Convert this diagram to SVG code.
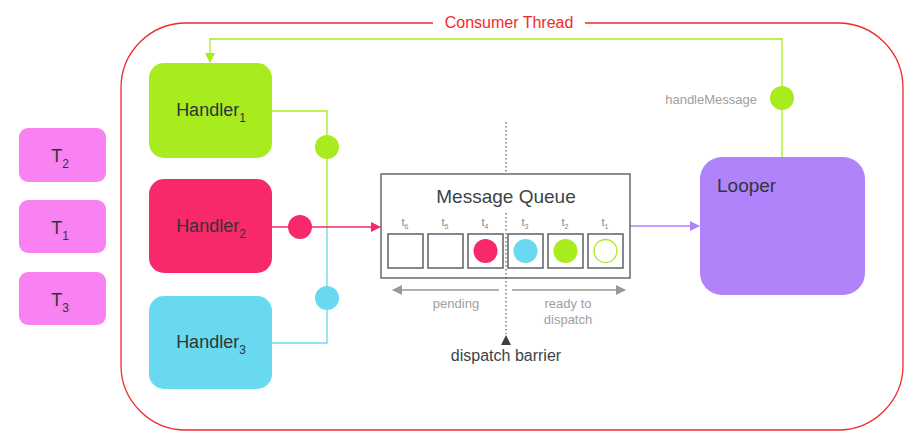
<svg xmlns="http://www.w3.org/2000/svg" width="916" height="440" viewBox="0 0 916 440">
<style>
text{font-family:"Liberation Sans",Arial,sans-serif}
.lbl{fill:#2e3538;font-size:18px}
.gray{fill:#a0a0a0;font-size:13px}
.slot{fill:#fff;stroke:#5a6266;stroke-width:1.5}
.ts{fill:#888;font-size:11px}
</style>
<defs>
<marker id="ag" markerWidth="10" markerHeight="10" refX="9" refY="5" orient="auto" markerUnits="userSpaceOnUse"><path d="M0,0 L10,5 L0,10 z" fill="#a8eb1e"/></marker>
<marker id="ap" markerWidth="10" markerHeight="10" refX="9" refY="5" orient="auto" markerUnits="userSpaceOnUse"><path d="M0,0 L10,5 L0,10 z" fill="#f7296a"/></marker>
<marker id="av" markerWidth="10" markerHeight="10" refX="9" refY="5" orient="auto" markerUnits="userSpaceOnUse"><path d="M0,0 L10,5 L0,10 z" fill="#b083fb"/></marker>
<marker id="ay" markerWidth="10" markerHeight="10" refX="9" refY="5" orient="auto" markerUnits="userSpaceOnUse"><path d="M0,0 L10,5 L0,10 z" fill="#999"/></marker>
</defs>
<g id="consumer-thread">
<path d="M433,23 H186 A65,65 0 0 0 121,88 V365 A65,65 0 0 0 186,430 H838 A65,65 0 0 0 903,365 V88 A65,65 0 0 0 838,23 H585" fill="none" stroke="#f02a2a" stroke-width="1.3"/>
<text x="509" y="28" text-anchor="middle" font-size="16" fill="#f02a2a">Consumer Thread</text>
</g>
<g id="connectors" fill="none" stroke-width="1.3">
<path d="M782,157 V39 H210 V62" stroke="#a8eb1e" marker-end="url(#ag)"/>
<path d="M272,111 H327 V227" stroke="#a8eb1e"/>
<path d="M272,343 H327 V227" stroke="#68d9ef"/>
<path d="M272,227 H380" stroke="#f7296a" marker-end="url(#ap)"/>
<path d="M630,226 H699" stroke="#b083fb" marker-end="url(#av)"/>
<circle cx="327" cy="147" r="12" fill="#a8eb1e" stroke="none"/>
<circle cx="327" cy="298" r="12" fill="#68d9ef" stroke="none"/>
<circle cx="300" cy="227" r="12" fill="#f7296a" stroke="none"/>
<circle cx="782" cy="98" r="12" fill="#a8eb1e" stroke="none"/>
<text x="757" y="104" text-anchor="end" class="gray" stroke="none">handleMessage</text>
</g>
<g id="t2"><rect x="19" y="128" width="87" height="54" rx="9" fill="#f882f1"/><text x="60" y="162" text-anchor="middle" class="lbl">T<tspan font-size="12" dy="6">2</tspan></text></g>
<g id="t1"><rect x="19" y="200" width="87" height="53" rx="9" fill="#f882f1"/><text x="60" y="234" text-anchor="middle" class="lbl">T<tspan font-size="12" dy="6">1</tspan></text></g>
<g id="t3"><rect x="19" y="272" width="87" height="53" rx="9" fill="#f882f1"/><text x="60" y="306" text-anchor="middle" class="lbl">T<tspan font-size="12" dy="6">3</tspan></text></g>
<g id="handler1"><rect x="149" y="63" width="123" height="95" rx="15" fill="#a8eb1e"/><text x="211" y="116" text-anchor="middle" class="lbl">Handler<tspan font-size="12" dy="6">1</tspan></text></g>
<g id="handler2"><rect x="149" y="179" width="123" height="94" rx="15" fill="#f7296a"/><text x="211" y="232" text-anchor="middle" class="lbl">Handler<tspan font-size="12" dy="6">2</tspan></text></g>
<g id="handler3"><rect x="149" y="296" width="123" height="93" rx="15" fill="#68d9ef"/><text x="211" y="348" text-anchor="middle" class="lbl">Handler<tspan font-size="12" dy="6">3</tspan></text></g>
<g id="message-queue">
<rect x="381" y="174" width="249" height="104" fill="#fff" stroke="#4a5459" stroke-width="1.3"/>
<text x="506" y="203" text-anchor="middle" font-size="19" fill="#3a4448">Message Queue</text>
<rect class="slot" x="388" y="234" width="35" height="34"/>
<rect class="slot" x="428" y="234" width="35" height="34"/>
<rect class="slot" x="468" y="234" width="35" height="34"/>
<rect class="slot" x="508" y="234" width="35" height="34"/>
<rect class="slot" x="548" y="234" width="35" height="34"/>
<rect class="slot" x="588" y="234" width="35" height="34"/>
<circle cx="485.5" cy="251" r="12" fill="#f7296a"/>
<circle cx="525.5" cy="251" r="12" fill="#68d9ef"/>
<circle cx="565.5" cy="251" r="12" fill="#a8eb1e"/>
<circle cx="605.5" cy="251" r="11.5" fill="#fff" stroke="#a8eb1e" stroke-width="1.3"/>
<text x="405" y="226" text-anchor="middle" class="ts">t<tspan font-size="7" dy="3">6</tspan></text>
<text x="445" y="226" text-anchor="middle" class="ts">t<tspan font-size="7" dy="3">5</tspan></text>
<text x="485" y="226" text-anchor="middle" class="ts">t<tspan font-size="7" dy="3">4</tspan></text>
<text x="525" y="226" text-anchor="middle" class="ts">t<tspan font-size="7" dy="3">3</tspan></text>
<text x="565" y="226" text-anchor="middle" class="ts">t<tspan font-size="7" dy="3">2</tspan></text>
<text x="605" y="226" text-anchor="middle" class="ts">t<tspan font-size="7" dy="3">1</tspan></text>
</g>
<g id="dispatch-barrier">
<line x1="506" y1="122" x2="506" y2="174" stroke="#555" stroke-width="1.2" stroke-dasharray="1.5,2.5"/>
<line x1="506" y1="213" x2="506" y2="334" stroke="#555" stroke-width="1.2" stroke-dasharray="1.5,2.5"/>
<path d="M501,345 L506,335 L511,345 z" fill="#3a4448"/>
<text x="506" y="361" text-anchor="middle" font-size="16" fill="#3a4448">dispatch barrier</text>
<path d="M499,290 H393" stroke="#999" stroke-width="1.3" fill="none" marker-end="url(#ay)"/>
<path d="M512,290 H625" stroke="#999" stroke-width="1.3" fill="none" marker-end="url(#ay)"/>
<text x="456" y="308" text-anchor="middle" class="gray">pending</text>
<text x="568" y="308" text-anchor="middle" class="gray">ready to</text>
<text x="568" y="324" text-anchor="middle" class="gray">dispatch</text>
</g>
<g id="looper"><rect x="700" y="157" width="165" height="138" rx="22" fill="#b083fb"/><text x="717" y="192" font-size="19" fill="#2e3538">Looper</text></g>
</svg>
